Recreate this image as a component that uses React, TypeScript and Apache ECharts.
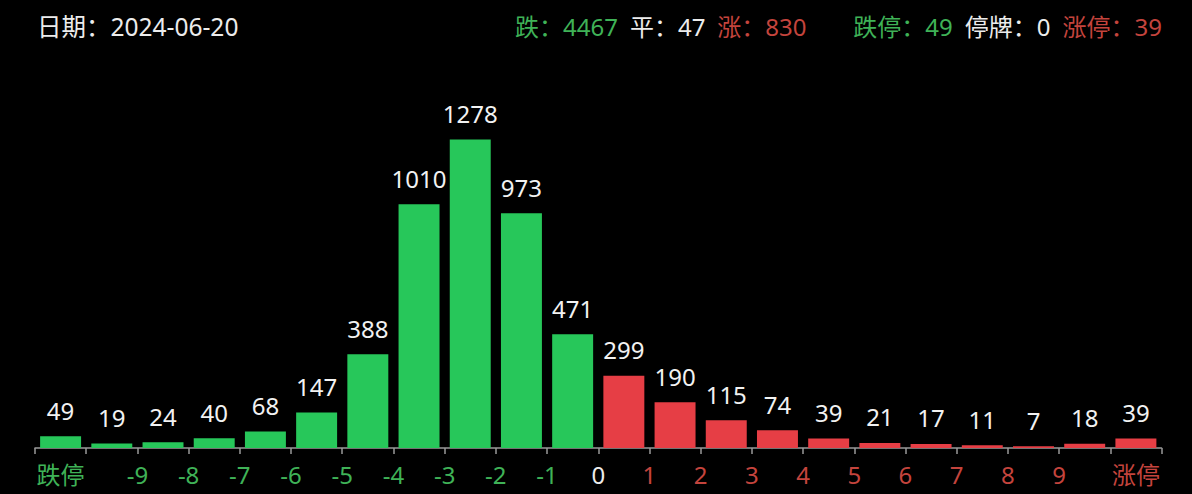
import { useEffect, useRef } from 'react'
import * as echarts from 'echarts'

// 22 bands: 跌停, ten bands below 0, ten bands above 0, 涨停
const bands = [
  '跌停', '-10~-9', '-9~-8', '-8~-7', '-7~-6', '-6~-5', '-5~-4', '-4~-3', '-3~-2', '-2~-1', '-1~0',
  '0~1', '1~2', '2~3', '3~4', '4~5', '5~6', '6~7', '7~8', '8~9', '9~10', '涨停',
]
const fallCounts = [49, 19, 24, 40, 68, 147, 388, 1010, 1278, 973, 471]
const riseCounts = [299, 190, 115, 74, 39, 21, 17, 11, 7, 18, 39]

// labels sit on the band edges, the two limit labels under their bars
const tickPositions = [-10.5, -9, -8, -7, -6, -5, -4, -3, -2, -1, 0, 1, 2, 3, 4, 5, 6, 7, 8, 9, 10.5]
const tickLabels = [
  '跌停', '-9', '-8', '-7', '-6', '-5', '-4', '-3', '-2', '-1', '0',
  '1', '2', '3', '4', '5', '6', '7', '8', '9', '涨停',
]

const dateText = '2024-06-20'
const marketCounts = [4467, 47, 830] // 跌 平 涨
const limitCounts = [49, 0, 39] // 跌停 停牌 涨停

const FONT = '"Noto Sans", "Noto Sans CJK SC", sans-serif'
const BAR_GREEN = '#27c75a'
const BAR_RED = '#e63e45'
const TXT_GREEN = '#3fb257'
const TXT_RED = '#c4443d'
const TXT_WHITE = '#ececec'

export default function App() {
  const ref = useRef<HTMLDivElement>(null)

  useEffect(() => {
    if (!ref.current) return
    const chart = echarts.init(ref.current, null, { renderer: 'svg' })

    // zrender rich styles take fill, not color
    const headerRich = {
      g: { fill: TXT_GREEN, fontSize: 24, fontFamily: FONT },
      w: { fill: TXT_WHITE, fontSize: 24, fontFamily: FONT },
      r: { fill: TXT_RED, fontSize: 24, fontFamily: FONT },
    }
    const sp = '\u2002'

    chart.setOption({
      animation: false,
      backgroundColor: '#000',
      grid: { left: 35, right: 30.5, top: 86, bottom: 46, containLabel: false },
      xAxis: [
        {
          type: 'category',
          position: 'bottom',
          data: bands,
          axisLine: { lineStyle: { color: '#9a9a9a', width: 1.5 } },
          axisTick: { show: true, length: 6, lineStyle: { color: '#9a9a9a', width: 1.5 } },
          axisLabel: { show: false },
        },
        {
          type: 'value',
          position: 'bottom',
          min: -11,
          max: 11,
          interval: 0.5,
          axisLine: { show: false },
          axisTick: { show: false },
          splitLine: { show: false },
          axisLabel: {
            margin: 14,
            fontSize: 24,
            fontFamily: FONT,
            showMinLabel: true,
            showMaxLabel: true,
            formatter: (v: number) => {
              const i = tickPositions.findIndex((p) => Math.abs(p - v) < 1e-6)
              if (i < 0) return ''
              const key = v < 0 ? 'g' : v > 0 ? 'r' : 'w'
              return `{${key}|${tickLabels[i]}}`
            },
            rich: {
              g: { color: TXT_GREEN, fontSize: 24, fontFamily: FONT },
              w: { color: TXT_WHITE, fontSize: 24, fontFamily: FONT },
              r: { color: TXT_RED, fontSize: 24, fontFamily: FONT },
            },
          },
        },
      ],
      yAxis: {
        type: 'value',
        min: 0,
        max: 1500,
        show: false,
        splitLine: { show: false },
      },
      series: [
        {
          type: 'bar',
          xAxisIndex: 0,
          barCategoryGap: '20%',
          data: [
            ...fallCounts.map((v) => ({ value: v, itemStyle: { color: BAR_GREEN } })),
            ...riseCounts.map((v) => ({ value: v, itemStyle: { color: BAR_RED } })),
          ],
          label: {
            show: true,
            position: 'top',
            distance: 14,
            color: '#f2f2f2',
            fontSize: 24,
            fontFamily: FONT,
          },
        },
      ],
      graphic: [
        {
          type: 'text',
          left: 37,
          top: 14,
          style: {
            text: `日期：${dateText}`,
            fill: TXT_WHITE,
            font: `24.5px ${FONT}`,
          },
        },
        {
          type: 'text',
          left: 515,
          top: 14,
          style: {
            text: `{g|跌：${marketCounts[0]}}${sp}{w|平：${marketCounts[1]}}${sp}{r|涨：${marketCounts[2]}}`,
            fill: TXT_WHITE,
            font: `24px ${FONT}`,
            rich: headerRich,
          },
        },
        {
          type: 'text',
          right: 30,
          top: 14,
          style: {
            text: `{g|跌停：${limitCounts[0]}}${sp}{w|停牌：${limitCounts[1]}}${sp}{r|涨停：${limitCounts[2]}}`,
            fill: TXT_WHITE,
            font: `24px ${FONT}`,
            rich: headerRich,
          },
        },
      ],
    })

    return () => {
      chart.dispose()
    }
  }, [])

  return (
    <div style={{ position: 'fixed', left: 0, top: 0, width: 1192, height: 494, background: '#000' }}>
      <div ref={ref} style={{ width: 1192, height: 494 }} />
    </div>
  )
}
